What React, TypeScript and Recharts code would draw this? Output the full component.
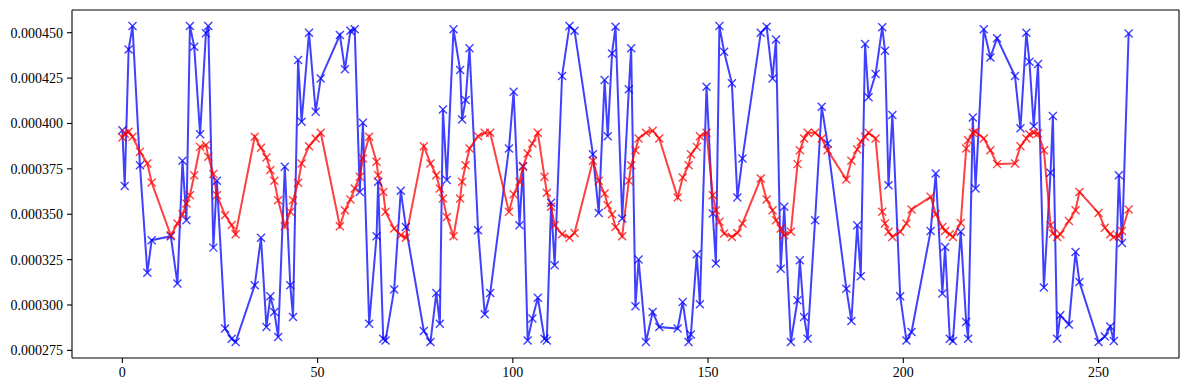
import React from "react";
import { LineChart, Line, XAxis, YAxis, ReferenceLine } from "recharts";

// x positions (shared by both series)
const xs = [
  0, 0.6, 1.6, 2.6, 4.5, 6.4, 7.5, 12.4, 14.1, 15.4, 16.4, 17.3, 18.4, 19.9, 21.4, 22.0, 23.3, 24.2, 26.3, 28.0, 29.0, 33.9, 35.5, 36.9, 37.9, 38.9, 39.9, 41.6,
  43.0, 43.7, 45.0, 45.9, 47.8, 49.5, 50.8, 55.7, 57.0, 58.4, 59.5, 60.8, 61.6, 63.2, 65.1, 65.5, 66.8, 67.4, 69.6, 71.3, 72.6, 77.2, 78.9, 80.4, 81.3, 82.1, 83.1, 84.8, 86.5, 87.0, 87.9, 88.9,
  91.1, 92.8, 94.2, 99.0, 100.2, 101.7, 102.6, 103.8, 105.0, 106.4, 108.1, 108.7, 109.8, 110.7, 112.6, 114.5, 115.8, 120.5, 122.0, 123.5, 124.3, 125.4, 126.3, 128.0, 129.7, 130.3, 131.4, 132.2, 134.1,
  135.8, 137.5, 142.2, 143.5, 145.0, 145.6, 147.1, 147.9, 149.6, 151.2, 152.0, 152.9, 154.1, 156.1, 157.5, 158.8, 163.5, 165.0, 166.5, 167.4, 168.6, 169.5, 171.2, 172.9, 173.5, 174.6, 175.5, 177.4, 179.1, 180.6,
  185.4, 186.7, 188.2, 189.1, 190.2, 191.1, 192.9, 194.6, 195.3, 196.2, 197.2, 199.2, 200.8, 202.1, 207.0, 208.3, 210.0, 210.7, 211.9, 212.7, 214.7, 216.1, 216.6, 217.8, 218.5, 220.6, 222.3, 224.0,
  228.6, 230.0, 231.5, 232.3, 233.4, 234.5, 236.0, 237.7, 238.3, 239.4, 240.2, 242.4, 244.1, 245.1, 250.0, 251.6, 253.0, 253.9, 255.2, 256.0, 257.7,
];

// values in units of 1e-6
const blueVals = [
  396.3, 365.5, 440.8, 453.7, 377.0, 317.8, 335.7, 337.9, 311.8, 379.4, 346.7, 453.7, 442.3, 394.1, 449.7, 453.7, 331.6, 368.4, 287.0, 281.4, 279.6, 310.9, 337.0, 287.9, 304.8, 296.2, 282.4, 376.1,
  310.9, 293.4, 434.9, 400.9, 450.0, 406.4, 424.8, 448.7, 429.8, 451.1, 451.9, 362.3, 400.4, 289.7, 337.9, 367.9, 281.4, 280.5, 308.5, 362.9, 343.0, 285.7, 279.6, 306.6, 289.7, 407.7, 368.8, 451.9, 429.4, 402.2, 412.9, 441.4,
  341.2, 294.9, 306.6, 386.2, 417.5, 343.9, 376.5, 280.5, 292.5, 304.0, 281.4, 280.5, 356.3, 321.9, 426.1, 453.7, 451.1, 383.1, 350.7, 423.9, 393.0, 438.6, 453.3, 347.6, 418.8, 441.4, 299.3, 325.0, 279.6,
  296.1, 287.9, 287.0, 301.7, 279.6, 283.8, 327.9, 300.4, 420.2, 350.4, 322.8, 453.7, 439.5, 422.1, 359.2, 380.7, 450.0, 453.3, 424.8, 446.3, 320.0, 354.1, 279.6, 302.6, 324.6, 293.4, 281.4, 346.7, 409.2, 389.0,
  309.0, 291.2, 343.9, 315.8, 443.8, 414.4, 427.2, 453.0, 440.1, 366.0, 404.6, 304.8, 280.5, 285.1, 340.8, 372.4, 306.3, 332.0, 281.4, 280.2, 340.3, 290.6, 281.4, 403.3, 364.2, 451.9, 436.4, 447.0,
  426.1, 397.3, 450.0, 434.0, 398.5, 432.7, 309.6, 372.8, 404.1, 281.4, 294.3, 289.3, 329.2, 312.7, 279.6, 282.7, 288.2, 280.2, 371.5, 334.2, 449.6,
];

const redVals = [
  392.3, 394.5, 395.4, 392.7, 384.4, 378.0, 367.5, 338.4, 344.9, 350.0, 355.9, 360.5, 371.5, 387.1, 388.1, 381.6, 372.1, 360.5, 349.5, 344.0, 339.0, 392.7, 386.6, 381.3, 374.3, 368.4, 357.7, 343.4,
  351.3, 357.7, 367.3, 378.0, 387.5, 391.7, 394.9, 343.4, 352.2, 358.1, 364.2, 370.6, 380.7, 392.7, 378.9, 371.5, 362.3, 351.3, 342.1, 338.4, 337.1, 387.5, 378.0, 371.5, 364.2, 358.7, 348.5, 337.9, 358.7, 367.9, 377.0, 386.2,
  393.0, 394.9, 394.9, 351.3, 361.0, 367.9, 376.1, 383.5, 389.0, 394.9, 370.6, 361.8, 354.1, 343.9, 339.0, 337.1, 339.7, 379.4, 368.4, 361.4, 355.0, 350.0, 343.0, 337.9, 368.4, 377.0, 385.3, 391.7, 394.9,
  396.0, 391.7, 359.2, 370.2, 377.0, 383.1, 387.1, 393.0, 394.9, 360.5, 352.2, 345.8, 339.4, 337.5, 339.7, 344.9, 369.7, 358.1, 352.2, 346.7, 342.1, 338.4, 340.3, 377.6, 385.3, 391.7, 394.9, 394.9, 391.7, 385.3,
  369.1, 379.4, 385.7, 389.9, 392.7, 394.9, 391.7, 351.3, 344.9, 340.3, 337.5, 340.3, 344.9, 352.6, 359.6, 350.0, 343.0, 340.8, 339.0, 337.5, 345.2, 386.2, 390.8, 394.9, 395.4, 391.7, 385.3, 377.6,
  378.0, 387.5, 391.7, 394.1, 394.9, 394.5, 385.3, 343.9, 339.4, 337.5, 339.0, 346.3, 352.2, 362.3, 350.7, 342.6, 339.0, 337.5, 337.9, 340.8, 352.6,
];

const xTicks = [0, 50, 100, 150, 200, 250];
const yTicks = [275, 300, 325, 350, 375, 400, 425, 450];
const xDomain: [number, number] = [-12.9, 270.6];
const yDomain: [number, number] = [270.8, 462.5];

const data = xs.map((x, i) => ({ x, blue: blueVals[i], red: redVals[i] }));

const FONT = "'Liberation Serif', 'DejaVu Serif', serif";
const tickStyle = { fill: "#000", fontSize: 14, fontFamily: FONT };

const makeMarker = (color: string, prefix: string) => (props: any) => {
  const { cx, cy, index } = props;
  if (cx == null || cy == null) return <g key={`${prefix}-${index}`} />;
  const r = 4;
  return (
    <path
      key={`${prefix}-${index}`}
      d={`M${cx - r},${cy - r}L${cx + r},${cy + r}M${cx - r},${cy + r}L${cx + r},${cy - r}`}
      stroke={color}
      strokeOpacity={0.75}
      strokeWidth={1.4}
      fill="none"
    />
  );
};

export default function App() {
  return (
    <div style={{ position: "absolute", left: 0, top: 0, background: "#fff" }}>
      <LineChart
        width={1189}
        height={390}
        data={data}
        margin={{ top: 10, right: 10, bottom: 0, left: 0 }}
      >
        <XAxis
          dataKey="x"
          type="number"
          domain={xDomain}
          ticks={xTicks}
          allowDataOverflow
          height={32}
          tickSize={5}
          tickMargin={4}
          axisLine={{ stroke: "#000", strokeWidth: 1.1 }}
          tickLine={{ stroke: "#000", strokeWidth: 1.1 }}
          tick={tickStyle}
          interval={0}
        />
        <YAxis
          type="number"
          domain={yDomain}
          ticks={yTicks}
          allowDataOverflow
          width={72}
          tickSize={5}
          tickMargin={4}
          axisLine={{ stroke: "#000", strokeWidth: 1.1 }}
          tickLine={{ stroke: "#000", strokeWidth: 1.1 }}
          tick={tickStyle}
          interval={0}
          tickFormatter={(v: number) => (v * 1e-6).toFixed(6)}
        />
        <ReferenceLine y={yDomain[1]} stroke="#000" strokeWidth={1.1} ifOverflow="extendDomain" />
        <ReferenceLine x={xDomain[1]} stroke="#000" strokeWidth={1.1} ifOverflow="extendDomain" />
        <Line
          dataKey="blue"
          stroke="#0000ff"
          strokeOpacity={0.75}
          strokeWidth={2}
          dot={makeMarker("#0000ff", "b")}
          activeDot={false}
          isAnimationActive={false}
          type="linear"
        />
        <Line
          dataKey="red"
          stroke="#ff0000"
          strokeOpacity={0.75}
          strokeWidth={2}
          dot={makeMarker("#ff0000", "r")}
          activeDot={false}
          isAnimationActive={false}
          type="linear"
        />
      </LineChart>
    </div>
  );
}
